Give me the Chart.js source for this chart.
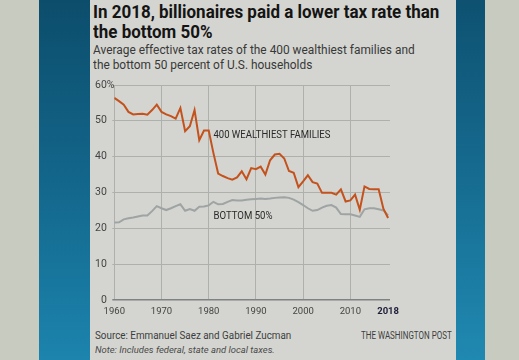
<!DOCTYPE html>
<html><head><meta charset="utf-8">
<script src="https://cdn.jsdelivr.net/npm/chart.js@4"></script>
<style>
html,body{margin:0;padding:0;}
body{width:519px;height:360px;position:relative;overflow:hidden;background:#c8cbc0;font-family:Roboto,"Liberation Sans",sans-serif;}
#bandL{position:absolute;left:39px;top:0;width:51px;height:360px;background:linear-gradient(#0c4d6b,#13668b 50%,#1c84ad);}
#bandR{position:absolute;left:456px;top:0;width:29px;height:360px;background:linear-gradient(#0e5171,#166c91 50%,#2089b1);}
#card{position:absolute;left:90px;top:0;width:366px;height:360px;background:#d4d5d0;}
.t{position:absolute;white-space:nowrap;transform-origin:0 0;}
.title{font-weight:700;font-size:18px;line-height:18px;color:#141414;left:93px;}
.sub{font-size:12px;line-height:12px;color:#383838;left:93px;}
.src{font-size:10px;line-height:10px;color:#3d3d3d;}
.note{font-size:9.5px;line-height:10px;color:#4a4a4a;font-style:italic;left:95px;}
canvas{position:absolute;left:0;top:0;}
</style></head>
<body>
<div id="bandL"></div><div id="card"></div><div id="bandR"></div>
<div class="t title" id="t1" data-w="346" style="top:3px">In 2018, billionaires paid a lower tax rate than</div>
<div class="t title" id="t2" data-same="t1" style="top:23px">the bottom 50%</div>
<div class="t sub" id="s1" data-w="322" style="top:44px">Average effective tax rates of the 400 wealthiest families and</div>
<div class="t sub" id="s2" data-same="s1" style="top:59px">the bottom 50 percent of U.S. households</div>
<div class="t src" id="so" data-w="196" style="top:331px;left:95px">Source: Emmanuel Saez and Gabriel Zucman</div>
<div class="t src" id="wp" data-w="91" style="top:331px;left:361px">THE WASHINGTON POST</div>
<div class="t note" id="nt" data-w="180" style="top:345px">Note: Includes federal, state and local taxes.</div>
<canvas id="c" width="519" height="360"></canvas>
<script>
// ---- data ----
const years = [1960,1961,1962,1963,1964,1965,1966,1967,1968,1969,
  1970,1971,1972,1973,1974,1975,1976,1977,1978,1979,
  1980,1981,1982,1983,1984,1985,1986,1987,1988,1989,
  1990,1991,1992,1993,1994,1995,1996,1997,1998,1999,
  2000,2001,2002,2003,2004,2005,2006,2007,2008,2009,
  2010,2011,2012,2013,2014,2015,2016,2017,2018];
const wealthiest400 = [56.4,55.5,54.5,52.5,51.8,51.9,52.0,51.7,53.0,54.5,
  52.5,51.8,51.3,50.6,53.6,47.1,48.5,53.0,44.6,47.3,
  47.3,41.0,35.3,34.6,34.0,33.6,34.2,35.9,33.7,36.8,
  36.5,37.2,35.0,39.0,40.6,40.8,39.5,36.0,35.5,31.5,
  33.1,34.8,32.9,32.5,29.9,29.9,29.9,29.4,30.9,27.5,
  27.8,29.4,25.2,31.7,31.0,30.9,30.9,25.5,22.9];
const bottom50 = [21.6,21.7,22.5,22.8,23.0,23.3,23.6,23.6,24.8,26.2,
  25.6,25.1,25.6,26.2,26.7,24.9,25.4,24.9,26.0,26.1,
  26.4,27.4,26.7,26.8,27.4,27.9,27.8,27.8,28.0,28.1,
  28.2,28.3,28.2,28.3,28.5,28.6,28.7,28.5,28.0,27.3,
  26.5,25.6,24.9,25.1,25.8,26.3,26.5,25.8,24.0,23.9,
  23.9,23.6,23.2,25.3,25.6,25.6,25.3,25.0,23.6];
const xTicks = [1960,1970,1980,1990,2000,2010,2018];
const yTicks = [0,10,20,30,40,50,60];
const seriesNames = ['400 WEALTHIEST FAMILIES','BOTTOM 50%'];

// condense HTML text to the reference widths
const scales = {};
document.querySelectorAll('.t').forEach(el=>{
  let s;
  if (el.dataset.w) { s = Math.min(1, el.dataset.w / el.scrollWidth); scales[el.id]=s; }
  else s = scales[el.dataset.same];
  el.style.transform = 'scaleX(' + s + ')';
});

const seriesLabelPlugin = {
  id:'seriesLabels',
  afterDatasetsDraw(chart){
    const {ctx, scales:{x,y}} = chart;
    const anchors = [{year:1981,value:46.0,w:117},{year:1981,value:23.4,w:59}];
    ctx.save();
    ctx.font = '10px Roboto, "Liberation Sans", sans-serif';
    ctx.fillStyle = '#2a2a2a';
    ctx.textBaseline = 'middle';
    ctx.textAlign = 'left';
    seriesNames.forEach((t,i)=>{
      const a = anchors[i];
      ctx.fillText(t, x.getPixelForValue(a.year), y.getPixelForValue(a.value), a.w);
    });
    ctx.restore();
  }
};

const gridCol = '#adb0ab';
new Chart(document.getElementById('c'), {
  type:'line',
  data:{
    datasets:[
      {label:seriesNames[0], data:years.map((yr,i)=>({x:yr,y:wealthiest400[i]})), borderColor:'#c4521d', borderWidth:2, pointRadius:0, tension:0},
      {label:seriesNames[1], data:years.map((yr,i)=>({x:yr,y:bottom50[i]})), borderColor:'#9ea3a3', borderWidth:2, pointRadius:0, tension:0}
    ]
  },
  options:{
    responsive:false, animation:false, devicePixelRatio:1,
    layout:{padding:{left:95,top:85,right:129,bottom:40}},
    plugins:{legend:{display:false}, tooltip:{enabled:false}},
    scales:{
      x:{type:'linear', min:1960, max:2018.4,
        afterBuildTicks(s){ s.ticks = xTicks.map(v=>({value:v})); },
        afterFit(s){ s.height = 20; },
        border:{display:false},
        grid:{drawTicks:false, color:c=> (c.tick && c.tick.value===2018) ? 'rgba(0,0,0,0)' : gridCol, lineWidth:1},
        ticks:{padding:6, maxRotation:0, autoSkip:false, color:c=> c.tick && c.tick.value===2018 ? '#1d1d3a' : '#444',
          font:c=> ({family:'Roboto, "Liberation Sans", sans-serif', size:9.5, weight: (c.tick && c.tick.value===2018) ? 'bold':'normal'}),
          callback:v=> String(v)}
      },
      y:{min:0, max:60,
        afterBuildTicks(s){ s.ticks = yTicks.map(v=>({value:v})); },
        afterFit(s){ s.width = 19.3; },
        border:{display:false},
        grid:{tickLength:2, color:c=> (c.tick && c.tick.value===0) ? '#7f8282' : gridCol, lineWidth:c=> (c.tick && c.tick.value===0) ? 1.5 : 1},
        ticks:{crossAlign:'far', padding:0, color:'#444', font:{family:'Roboto, "Liberation Sans", sans-serif', size:10.5},
          callback:v=> v===60 ? '60%' : (v===0 ? '\u2007' + v : String(v))}
      }
    }
  },
  plugins:[seriesLabelPlugin]
});
</script>
</body></html>
